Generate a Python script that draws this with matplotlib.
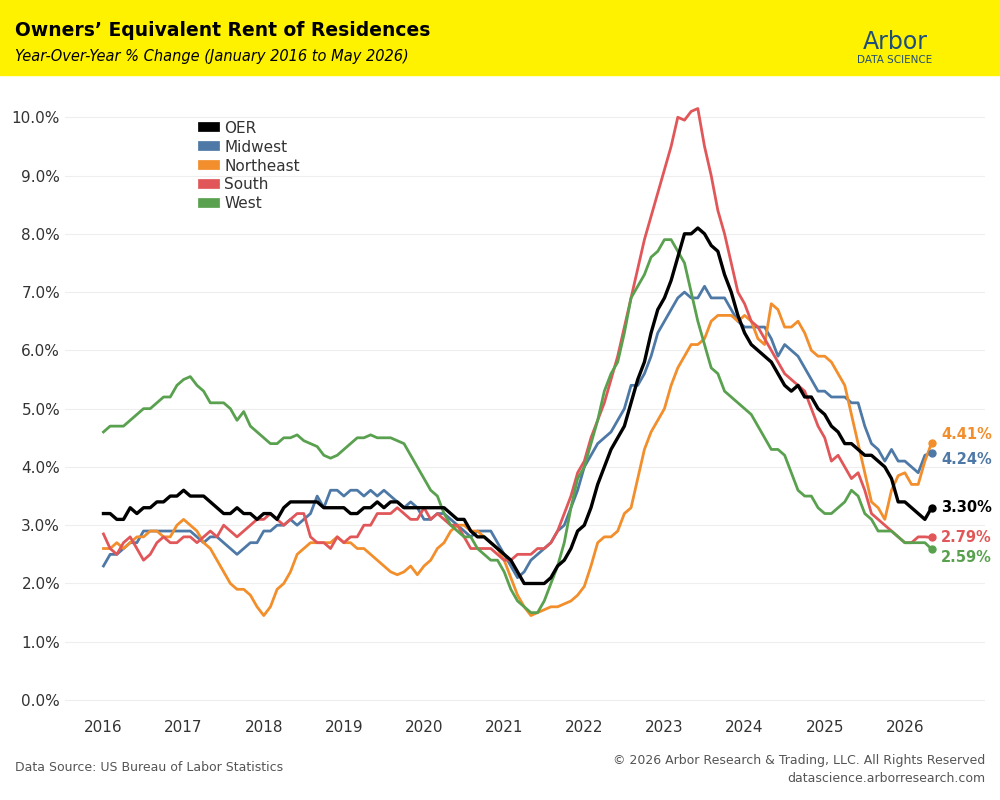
import numpy as np
import matplotlib.pyplot as plt
from matplotlib.patches import Rectangle

oer = [3.2,3.2,3.1,3.1,3.3,3.2,3.3,3.3,3.4,3.4,3.5,3.5,
3.6,3.5,3.5,3.5,3.4,3.3,3.2,3.2,3.3,3.2,3.2,3.1,
3.2,3.2,3.1,3.3,3.4,3.4,3.4,3.4,3.4,3.3,3.3,3.3,
3.3,3.2,3.2,3.3,3.3,3.4,3.3,3.4,3.4,3.3,3.3,3.3,
3.3,3.3,3.3,3.3,3.2,3.1,3.1,2.9,2.8,2.8,2.7,2.6,
2.5,2.4,2.2,2.0,2.0,2.0,2.0,2.1,2.3,2.4,2.6,2.9,
3.0,3.3,3.7,4.0,4.3,4.5,4.7,5.1,5.5,5.8,6.3,6.7,
6.9,7.2,7.6,8.0,8.0,8.1,8.0,7.8,7.7,7.3,7.0,6.6,
6.3,6.1,6.0,5.9,5.8,5.6,5.4,5.3,5.4,5.2,5.2,5.0,
4.9,4.7,4.6,4.4,4.4,4.3,4.2,4.2,4.1,4.0,3.8,3.4,
3.4,3.3,3.2,3.1,3.30]
midwest = [2.3,2.5,2.5,2.6,2.7,2.7,2.9,2.9,2.9,2.9,2.9,2.9,
2.9,2.9,2.8,2.7,2.8,2.8,2.7,2.6,2.5,2.6,2.7,2.7,
2.9,2.9,3.0,3.0,3.1,3.0,3.1,3.2,3.5,3.3,3.6,3.6,
3.5,3.6,3.6,3.5,3.6,3.5,3.6,3.5,3.4,3.3,3.4,3.3,
3.1,3.1,3.2,3.2,3.1,3.0,2.9,2.8,2.9,2.9,2.9,2.7,
2.5,2.3,2.1,2.2,2.4,2.5,2.6,2.7,2.9,3.0,3.3,3.6,
4.0,4.2,4.4,4.5,4.6,4.8,5.0,5.4,5.4,5.6,5.9,6.3,
6.5,6.7,6.9,7.0,6.9,6.9,7.1,6.9,6.9,6.9,6.7,6.5,
6.4,6.4,6.4,6.4,6.2,5.9,6.1,6.0,5.9,5.7,5.5,5.3,
5.3,5.2,5.2,5.2,5.1,5.1,4.7,4.4,4.3,4.1,4.3,4.1,
4.1,4.0,3.9,4.2,4.24]
northeast = [2.6,2.6,2.7,2.6,2.7,2.8,2.8,2.9,2.9,2.8,2.8,3.0,
3.1,3.0,2.9,2.7,2.6,2.4,2.2,2.0,1.9,1.9,1.8,1.6,
1.45,1.6,1.9,2.0,2.2,2.5,2.6,2.7,2.7,2.7,2.7,2.8,
2.7,2.7,2.6,2.6,2.5,2.4,2.3,2.2,2.15,2.2,2.3,2.15,
2.3,2.4,2.6,2.7,2.9,3.0,3.0,2.9,2.9,2.8,2.7,2.6,
2.4,2.1,1.8,1.6,1.45,1.5,1.55,1.6,1.6,1.65,1.7,1.8,
1.95,2.3,2.7,2.8,2.8,2.9,3.2,3.3,3.8,4.3,4.6,4.8,
5.0,5.4,5.7,5.9,6.1,6.1,6.2,6.5,6.6,6.6,6.6,6.5,
6.6,6.5,6.2,6.1,6.8,6.7,6.4,6.4,6.5,6.3,6.0,5.9,
5.9,5.8,5.6,5.4,4.9,4.4,3.9,3.4,3.3,3.1,3.6,3.85,
3.9,3.7,3.7,4.1,4.41]
south = [2.85,2.6,2.5,2.7,2.8,2.6,2.4,2.5,2.7,2.8,2.7,2.7,
2.8,2.8,2.7,2.8,2.9,2.8,3.0,2.9,2.8,2.9,3.0,3.1,
3.1,3.2,3.1,3.0,3.1,3.2,3.2,2.8,2.7,2.7,2.6,2.8,
2.7,2.8,2.8,3.0,3.0,3.2,3.2,3.2,3.3,3.2,3.1,3.1,
3.3,3.1,3.2,3.1,3.0,3.0,2.8,2.6,2.6,2.6,2.6,2.5,
2.4,2.4,2.5,2.5,2.5,2.6,2.6,2.7,2.9,3.2,3.5,3.9,
4.1,4.5,4.8,5.1,5.5,5.9,6.4,6.9,7.4,7.9,8.3,8.7,
9.1,9.5,10.0,9.95,10.1,10.15,9.5,9.0,8.4,8.0,7.5,7.0,
6.8,6.5,6.4,6.2,6.0,5.8,5.6,5.5,5.4,5.3,5.0,4.7,
4.5,4.1,4.2,4.0,3.8,3.9,3.6,3.2,3.1,3.0,2.9,2.8,
2.7,2.7,2.8,2.8,2.79]
west = [4.6,4.7,4.7,4.7,4.8,4.9,5.0,5.0,5.1,5.2,5.2,5.4,
5.5,5.55,5.4,5.3,5.1,5.1,5.1,5.0,4.8,4.95,4.7,4.6,
4.5,4.4,4.4,4.5,4.5,4.55,4.45,4.4,4.35,4.2,4.15,4.2,
4.3,4.4,4.5,4.5,4.55,4.5,4.5,4.5,4.45,4.4,4.2,4.0,
3.8,3.6,3.5,3.2,3.0,2.9,2.8,2.8,2.6,2.5,2.4,2.4,
2.2,1.9,1.7,1.6,1.5,1.5,1.7,2.0,2.3,2.7,3.3,3.8,
4.0,4.4,4.8,5.3,5.6,5.8,6.3,6.9,7.1,7.3,7.6,7.7,
7.9,7.9,7.7,7.5,7.0,6.5,6.1,5.7,5.6,5.3,5.2,5.1,
5.0,4.9,4.7,4.5,4.3,4.3,4.2,3.9,3.6,3.5,3.5,3.3,
3.2,3.2,3.3,3.4,3.6,3.5,3.2,3.1,2.9,2.9,2.9,2.8,
2.7,2.7,2.7,2.7,2.59]

series = [("OER", oer, "#000000"), ("Midwest", midwest, "#4e79a7"),
          ("Northeast", northeast, "#f28e2b"), ("South", south, "#e15759"),
          ("West", west, "#59a14f")]
yticks = [f"{v:.1f}%" for v in np.arange(0, 10.1, 1.0)]
years = list(range(2016, 2027))

fig = plt.figure(figsize=(10, 8), dpi=100)
fig.patches.append(Rectangle((0, 0.906), 1, 0.094, transform=fig.transFigure, color="#fff200", zorder=0))
fig.text(0.015, 0.962, "Owners’ Equivalent Rent of Residences", fontsize=13.5, fontweight="semibold", va="center")
fig.text(0.015, 0.929, "Year-Over-Year % Change (January 2016 to May 2026)", fontsize=10.5, style="italic", va="center")
fig.text(0.895, 0.947, "Arbor", fontsize=17, color="#1f4e79", ha="center", va="center")
fig.text(0.895, 0.925, "DATA SCIENCE", fontsize=7.5, color="#1f4e79", ha="center", va="center")
fig.text(0.015, 0.036, "Data Source: US Bureau of Labor Statistics", fontsize=9, color="#555555")
fig.text(0.985, 0.045, "© 2026 Arbor Research & Trading, LLC. All Rights Reserved", fontsize=9, color="#555555", ha="right")
fig.text(0.985, 0.022, "datascience.arborresearch.com", fontsize=9, color="#555555", ha="right")

ax = fig.add_axes([0.065, 0.106, 0.92, 0.7875])
for name, vals, col in series:
    x = 2016 + np.arange(len(vals)) / 12
    lw = 2.4 if name == "OER" else 2.0
    ax.plot(x, vals, color=col, lw=lw, label=name, zorder=5 if name == "OER" else 3)
    ax.plot(x[-1], vals[-1], "o", color=col, ms=5, zorder=6)
ypos = {"OER": 3.30, "Midwest": 4.13, "Northeast": 4.55, "South": 2.79, "West": 2.45}
for name, vals, col in series:
    ax.text(2026.45, ypos[name], f"{vals[-1]:.2f}%", color=col, fontsize=10.5, fontweight="bold", va="center")
ax.set_xlim(2015.52, 2027.0)
ax.set_ylim(-0.26, 10.55)
ax.set_yticks(np.arange(0, 10.1, 1.0))
ax.set_yticklabels(yticks, fontsize=11, color="#333333")
ax.set_xticks(years)
ax.set_xticklabels([str(y) for y in years], fontsize=11, color="#333333")
ax.grid(axis="y", color="#eeeeee", lw=0.8)
for s in ax.spines.values():
    s.set_visible(False)
ax.tick_params(length=0)
leg = ax.legend(loc="upper left", bbox_to_anchor=(0.135, 0.965), frameon=False, fontsize=11,
                handlelength=0.8, handleheight=0.8, labelspacing=0.25, handletextpad=0.6,
                labelcolor="#333333")
for h in leg.legend_handles:
    h.set_linewidth(7)
fig.savefig("out.png")
